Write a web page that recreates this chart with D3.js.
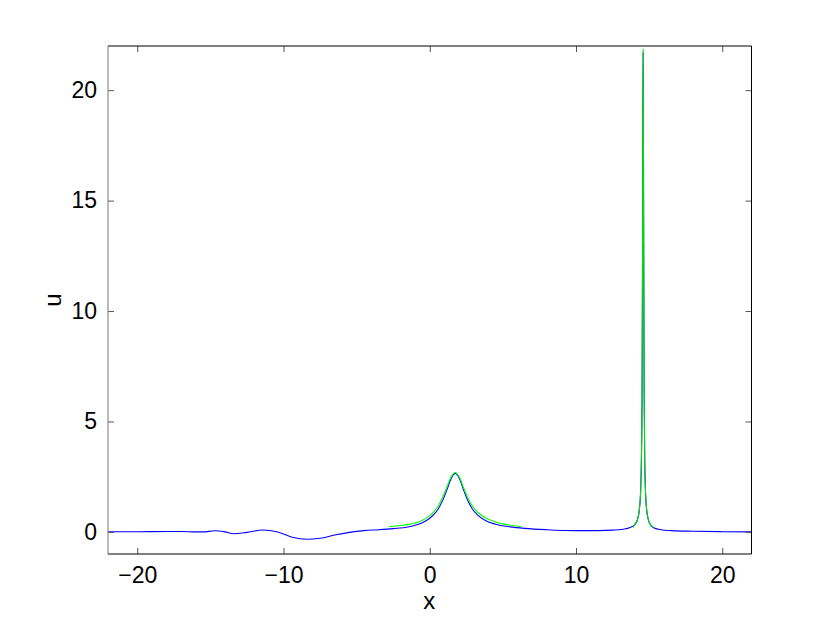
<!DOCTYPE html>
<html>
<head>
<meta charset="utf-8">
<script src="https://cdn.jsdelivr.net/npm/d3@7"></script>
<style>
  html, body { margin: 0; padding: 0; background: #fff; }
  svg { display: block; font-family: "Liberation Sans", Arial, Helvetica, sans-serif; }
</style>
</head>
<body>
<svg id="chart" width="830" height="623"></svg>
<script>
// ---- data ----
const xTicks = [-20, -10, 0, 10, 20];
const yTicks = [0, 5, 10, 15, 20];
const xLabel = "x";
const yLabel = "u";

// blue series: full solution
const blueX = [-22, -20, -18, -17, -16, -15.5, -14.7, -14.0, -13.4, -12.5, -11.4, -10.4, -9.4, -8.4, -7.5, -6.5, -5.5, -4.5, -3.5, -2.5, -1.5, -1.0, -0.5, 0.0, 0.3, 0.6, 0.9, 1.2, 1.45, 1.65, 1.75, 1.85, 2.05, 2.3, 2.6, 2.9, 3.3, 3.8, 4.5, 5.5, 6.5, 8.0, 10.0, 11.5, 12.5, 13.2, 13.7, 14.0, 14.2, 14.32, 14.41, 14.47, 14.52, 14.55, 14.575, 14.59, 14.605, 14.63, 14.66, 14.7, 14.76, 14.84, 14.95, 15.1, 15.35, 15.8, 16.5, 18.0, 20.0, 22.0];
const blueU = [0.01, 0.01, 0.02, 0.02, 0.0, 0.0, 0.05, 0.0, -0.08, -0.02, 0.09, 0.0, -0.24, -0.33, -0.29, -0.14, -0.02, 0.06, 0.1, 0.15, 0.22, 0.3, 0.42, 0.62, 0.8, 1.06, 1.45, 1.95, 2.4, 2.62, 2.65, 2.6, 2.38, 1.92, 1.42, 1.05, 0.75, 0.52, 0.35, 0.23, 0.16, 0.1, 0.06, 0.06, 0.08, 0.12, 0.2, 0.32, 0.55, 0.95, 1.7, 3.2, 6.5, 12.5, 19.5, 21.7, 19.5, 12.5, 6.5, 3.2, 1.7, 0.95, 0.55, 0.32, 0.18, 0.1, 0.06, 0.03, 0.01, 0.0];

// green series: partial solution around the two peaks
const greenAX = [-2.77, -2.0, -1.0, -0.5, 0.0, 0.3, 0.6, 0.9, 1.2, 1.45, 1.65, 1.75, 1.85, 2.05, 2.3, 2.6, 2.9, 3.3, 3.8, 4.5, 5.3, 6.24];
const greenAU = [0.24, 0.29, 0.4, 0.53, 0.74, 0.93, 1.2, 1.6, 2.08, 2.48, 2.66, 2.69, 2.64, 2.45, 2.02, 1.55, 1.18, 0.88, 0.64, 0.45, 0.33, 0.24];
const greenBX = [13.9, 14.0, 14.2, 14.32, 14.41, 14.47, 14.52, 14.55, 14.575, 14.59, 14.605, 14.63, 14.66, 14.7, 14.76, 14.84, 14.95, 15.1, 15.3];
const greenBU = [0.2, 0.32, 0.55, 0.95, 1.7, 3.2, 6.5, 12.5, 19.6, 21.85, 19.6, 12.5, 6.5, 3.2, 1.7, 0.95, 0.55, 0.32, 0.2];

// ---- layout ----
const svg = d3.select("#chart");
const L = 108, R = 751.5, T = 46, B = 554;
const x = d3.scaleLinear().domain([-22, 22]).range([L, R]);
const y = d3.scaleLinear().domain([-1, 22]).range([B, T]);
const tickLen = 6;
const fontStack = '"Liberation Sans", Arial, Helvetica, sans-serif';

const zip = (xs, us) => xs.map((v, i) => [v, us[i]]);
const line = d3.line().x(d => x(d[0])).y(d => y(d[1])).curve(d3.curveMonotoneX);

svg.append("clipPath").attr("id", "clip")
  .append("rect").attr("x", L).attr("y", T).attr("width", R - L).attr("height", B - T);

const plot = svg.append("g").attr("clip-path", "url(#clip)");
plot.append("path").datum(zip(blueX, blueU)).attr("d", line)
  .attr("fill", "none").attr("stroke", "#0000ff").attr("stroke-width", 1.1);
plot.append("path").datum(zip(greenAX, greenAU)).attr("d", line)
  .attr("fill", "none").attr("stroke", "#00ff00").attr("stroke-width", 1.1);
plot.append("path").datum(zip(greenBX, greenBU)).attr("d", line)
  .attr("fill", "none").attr("stroke", "#00e000").attr("stroke-width", 1.1);

// axes (MATLAB-style box, ticks inward on all sides)
const xAxisB = d3.axisBottom(x).tickValues(xTicks).tickSize(-tickLen).tickPadding(13).tickFormat(d3.format("d"));
const xAxisT = d3.axisTop(x).tickValues(xTicks).tickSize(-tickLen).tickFormat("");
const yAxisL = d3.axisLeft(y).tickValues(yTicks).tickSize(-tickLen).tickPadding(11).tickFormat(d3.format("d"));
const yAxisR = d3.axisRight(y).tickValues(yTicks).tickSize(-tickLen).tickFormat("");

function styleAxis(g) {
  g.select(".domain").remove();
  g.selectAll(".tick line").attr("stroke", "#555").attr("stroke-width", 1);
  g.selectAll(".tick text").attr("fill", "#000").style("font-size", "23px")
   .style("font-family", fontStack);
}
svg.append("g").attr("transform", `translate(0,${B})`).call(xAxisB).call(styleAxis);
svg.append("g").attr("transform", `translate(0,${T})`).call(xAxisT).call(styleAxis);
svg.append("g").attr("transform", `translate(${L},0)`).call(yAxisL).call(styleAxis);
svg.append("g").attr("transform", `translate(${R},0)`).call(yAxisR).call(styleAxis);

// box
svg.append("line").attr("x1", L).attr("x2", R).attr("y1", T).attr("y2", T).attr("stroke", "#000");
svg.append("line").attr("x1", L).attr("x2", R).attr("y1", B).attr("y2", B).attr("stroke", "#000");
svg.append("line").attr("x1", R).attr("x2", R).attr("y1", T).attr("y2", B).attr("stroke", "#000");
svg.append("line").attr("x1", L).attr("x2", L).attr("y1", T).attr("y2", B).attr("stroke", "#777");

// axis labels
svg.append("text").attr("x", (L + R) / 2 - 0.5).attr("y", 609).attr("text-anchor", "middle")
  .style("font-size", "24px").style("font-family", fontStack).text(xLabel);
svg.append("text").attr("transform", `translate(61,${(T + B) / 2}) rotate(-90)`)
  .attr("text-anchor", "middle").style("font-size", "24px").style("font-family", fontStack).text(yLabel);
</script>
</body>
</html>
